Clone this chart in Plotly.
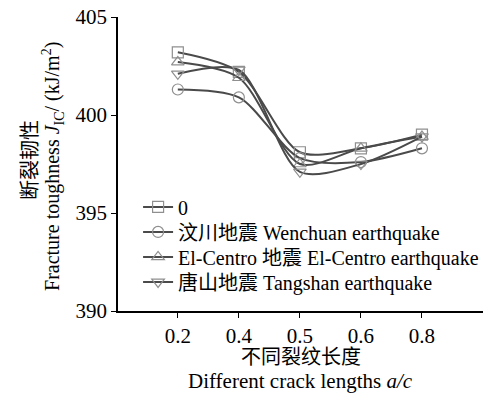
import plotly.graph_objects as go

categories = ["0.2", "0.4", "0.5", "0.6", "0.8"]
series_names = ["0", "汶川地震 Wenchuan earthquake", "El-Centro 地震 El-Centro earthquake", "唐山地震 Tangshan earthquake"]
s_none = [403.2, 402.2, 398.1, 398.3, 399.0]
s_wenchuan = [401.3, 400.9, 397.8, 397.6, 398.3]
s_elcentro = [402.7, 401.9, 397.5, 398.3, 398.9]
s_tangshan = [402.1, 402.3, 397.1, 397.5, 398.9]
symbols = ["square-open", "circle-open", "triangle-up-open", "triangle-down-open"]
y_ticks = [390, 395, 400, 405]
x_title_lines = ["不同裂纹长度", "Different crack lengths <i>a/c</i>"]
y_title_lines = ["断裂韧性", "Fracture toughness <i>J</i><sub>IC</sub>/ (kJ/m<sup>2</sup>)"]

FONT = "Liberation Serif, Times New Roman, Noto Sans CJK SC, serif"
xs = list(range(len(categories)))
legend_ids = ["legend", "legend2", "legend3", "legend4"]
legend_y = [0.354, 0.269, 0.184, 0.099]

fig = go.Figure()
for name, vals, sym, lid in zip(series_names, [s_none, s_wenchuan, s_elcentro, s_tangshan], symbols, legend_ids):
    fig.add_trace(go.Scatter(
        x=xs, y=vals, name=name, mode="lines+markers", legend=lid,
        line=dict(color="#4a4a4a", width=2, shape="spline", smoothing=0.8),
        marker=dict(symbol=sym, size=11, color="#8f8f8f", line=dict(width=1.2, color="#8f8f8f")),
    ))

legend_common = dict(x=0.055, xanchor="left", yanchor="middle",
                     bgcolor="rgba(0,0,0,0)", font=dict(size=20, family=FONT),
                     itemwidth=30)
layout_legends = {lid: dict(y=ly, **legend_common) for lid, ly in zip(legend_ids, legend_y)}

fig.update_layout(
    width=491, height=398,
    margin=dict(l=118, r=8, t=17, b=87, autoexpand=False),
    paper_bgcolor="white", plot_bgcolor="white",
    font=dict(family=FONT, size=20, color="black"),
    showlegend=True,
    **layout_legends,
)
fig.update_xaxes(
    tickmode="array", tickvals=xs, ticktext=categories,
    range=[-0.98, 5.0], showgrid=False, zeroline=False, automargin=False,
    showline=True, linecolor="black", linewidth=1.5,
    ticks="outside", ticklen=5, tickcolor="black",
    tickfont=dict(size=21, family=FONT),
)
fig.update_yaxes(
    range=[390, 405], tickvals=y_ticks, showgrid=False, zeroline=False, automargin=False,
    showline=True, linecolor="black", linewidth=1.5,
    ticks="outside", ticklen=5, tickcolor="black",
    tickfont=dict(size=21, family=FONT),
)
# axis titles
fig.add_annotation(text=x_title_lines[0], xref="paper", yref="paper", x=0.5, y=-0.155,
                   xanchor="center", yanchor="middle", showarrow=False,
                   font=dict(size=20, family=FONT))
fig.add_annotation(text=x_title_lines[1], xref="paper", yref="paper", x=0.5, y=-0.238,
                   xanchor="center", yanchor="middle", showarrow=False,
                   font=dict(size=21, family=FONT))
fig.add_annotation(text=y_title_lines[0], xref="paper", yref="paper", x=-0.241, y=0.514,
                   xanchor="center", yanchor="middle", showarrow=False, textangle=-90,
                   font=dict(size=20, family=FONT))
fig.add_annotation(text=y_title_lines[1], xref="paper", yref="paper", x=-0.178, y=0.49,
                   xanchor="center", yanchor="middle", showarrow=False, textangle=-90,
                   font=dict(size=20, family=FONT))
fig.write_html("out.html")
